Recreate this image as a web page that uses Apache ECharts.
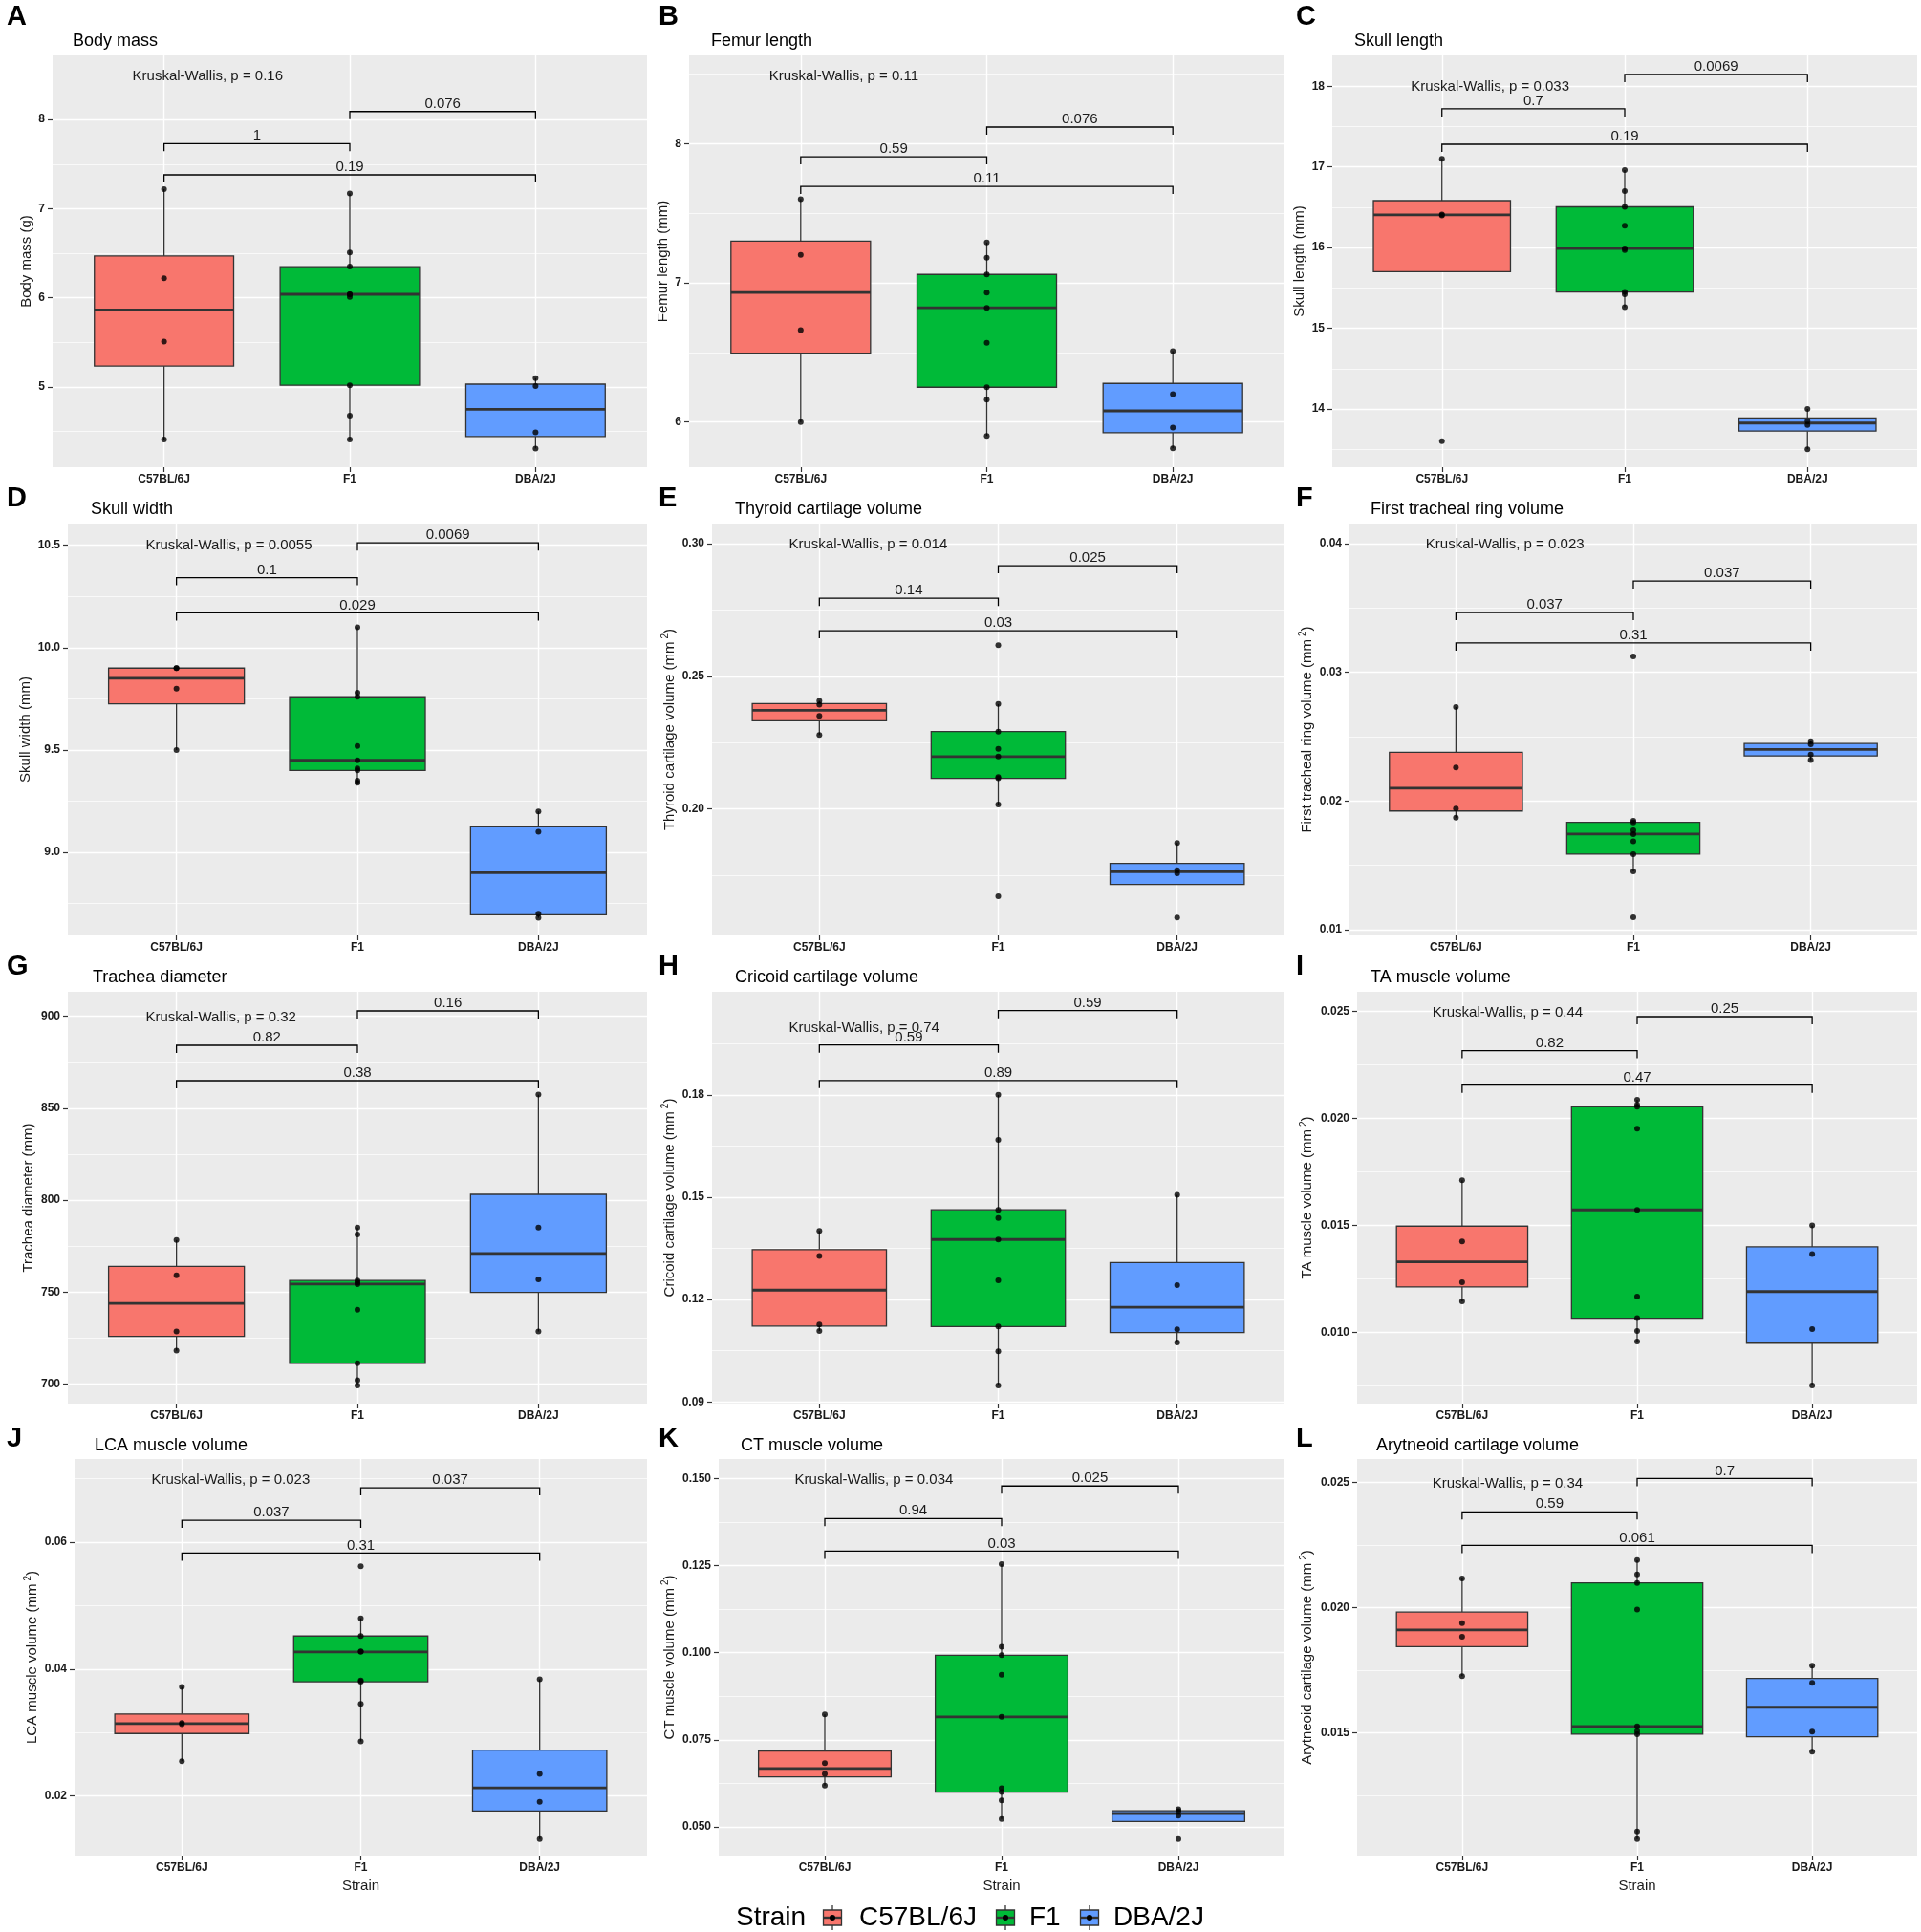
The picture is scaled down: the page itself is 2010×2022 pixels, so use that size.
<!DOCTYPE html>
<html>
<head>
<meta charset="utf-8">
<title>Strain comparisons</title>
<script src="https://cdn.jsdelivr.net/npm/echarts@6.0.0/dist/echarts.min.js"></script>
<style>
  html, body { margin: 0; padding: 0; background: #fff; }
  #main { width: 2010px; height: 2022px; }
</style>
</head>
<body>
<div id="main"></div>
<script>
const strains = ['C57BL/6J', 'F1', 'DBA/2J'];
// brackets in every panel: C57BL/6J-F1, F1-DBA/2J, C57BL/6J-DBA/2J
const pairs = [[1, 2], [2, 3], [1, 3]];

// A body mass
const bodyMassC57 = [7.22, 6.22, 5.51, 4.41];
const bodyMassF1 = [7.17, 6.51, 6.35, 6.04, 6.04, 6.01, 5.02, 4.68, 4.41];
const bodyMassDBA = [5.10, 5.01, 4.49, 4.31];
const bodyMassTicks = [5, 6, 7, 8];
const bodyMassRange = [4.10, 8.72];
const bodyMassP = [['1', 7.73], ['0.076', 8.09], ['0.19', 7.38]];
const bodyMassKW = ['0.16', 8.49];

// B femur length
const femurC57 = [7.60, 7.20, 6.66, 6.00];
const femurF1 = [7.29, 7.18, 7.06, 6.93, 6.82, 6.57, 6.25, 6.16, 5.90];
const femurDBA = [6.51, 6.20, 5.96, 5.81];
const femurTicks = [6, 7, 8];
const femurRange = [5.675, 8.634];
const femurP = [['0.59', 7.906], ['0.076', 8.119], ['0.11', 7.693]];
const femurKW = ['0.11', 8.485];

// C skull length
const skullLenC57 = [17.10, 16.41, 16.40, 13.60];
const skullLenF1 = [16.96, 16.70, 16.505, 16.27, 15.99, 15.97, 15.45, 15.42, 15.26];
const skullLenDBA = [14.00, 13.85, 13.80, 13.50];
const skullLenTicks = [14, 15, 16, 17, 18];
const skullLenRange = [13.277, 18.383];
const skullLenP = [['0.7', 17.72], ['0.0069', 18.146], ['0.19', 17.281]];
const skullLenKW = ['0.033', 17.99];

// D skull width
const skullWidC57 = [9.90, 9.90, 9.80, 9.50];
const skullWidF1 = [10.10, 9.78, 9.76, 9.52, 9.45, 9.41, 9.40, 9.35, 9.34];
const skullWidDBA = [9.20, 9.10, 8.70, 8.68];
const skullWidTicks = [9.0, 9.5, 10.0, 10.5];
const skullWidRange = [8.594, 10.606];
const skullWidP = [['0.1', 10.342], ['0.0069', 10.512], ['0.029', 10.17]];
const skullWidKW = ['0.0055', 10.497];

// E thyroid cartilage volume
const thyroidC57 = [0.2407, 0.2393, 0.2350, 0.2278];
const thyroidF1 = [0.2617, 0.2395, 0.2291, 0.2226, 0.2197, 0.2120, 0.2115, 0.2016, 0.1670];
const thyroidDBA = [0.1871, 0.1768, 0.1756, 0.1590];
const thyroidTicks = [0.20, 0.25, 0.30];
const thyroidRange = [0.1522, 0.3076];
const thyroidP = [['0.14', 0.2794], ['0.025', 0.2917], ['0.03', 0.2672]];
const thyroidKW = ['0.014', 0.2998];

// F first tracheal ring volume
const ringC57 = [0.0273, 0.0226, 0.0194, 0.0187];
const ringF1 = [0.03124, 0.01847, 0.01834, 0.01772, 0.01743, 0.01686, 0.01587, 0.01453, 0.01097];
const ringDBA = [0.02465, 0.0244, 0.02361, 0.02317];
const ringTicks = [0.01, 0.02, 0.03, 0.04];
const ringRange = [0.00955, 0.04156];
const ringP = [['0.037', 0.03465], ['0.037', 0.0371], ['0.31', 0.03228]];
const ringKW = ['0.023', 0.03995];

// G trachea diameter
const tracheaC57 = [778.4, 759.2, 728.6, 718.2];
const tracheaF1 = [785.1, 781.4, 756.3, 755.3, 754.4, 740.4, 711.3, 702.1, 699.3];
const tracheaDBA = [857.4, 785.1, 756.9, 728.6];
const tracheaTicks = [700, 750, 800, 850, 900];
const tracheaRange = [689.4, 913.3];
const tracheaP = [['0.82', 884.2], ['0.16', 902.9], ['0.38', 865.0]];
const tracheaKW = ['0.32', 899.5];

// H cricoid cartilage volume
const cricoidC57 = [0.1401, 0.1328, 0.1127, 0.1108];
const cricoidF1 = [0.1800, 0.1668, 0.1463, 0.1439, 0.1376, 0.1256, 0.1121, 0.1048, 0.0948];
const cricoidDBA = [0.1507, 0.1242, 0.1113, 0.1074];
const cricoidTicks = [0.09, 0.12, 0.15, 0.18];
const cricoidRange = [0.0895, 0.2102];
const cricoidP = [['0.59', 0.1946], ['0.59', 0.2047], ['0.89', 0.1842]];
const cricoidKW = ['0.74', 0.1997];

// I TA muscle volume
const taC57 = [0.01711, 0.01426, 0.01235, 0.01146];
const taF1 = [0.02088, 0.02064, 0.02055, 0.01952, 0.01573, 0.01168, 0.01067, 0.01007, 0.00958];
const taDBA = [0.01501, 0.01367, 0.01016, 0.00753];
const taTicks = [0.010, 0.015, 0.020, 0.025];
const taRange = [0.00668, 0.02592];
const taP = [['0.82', 0.02317], ['0.25', 0.02476], ['0.47', 0.02156]];
const taKW = ['0.44', 0.02496];

// J LCA muscle volume
const lcaC57 = [0.0372, 0.0315, 0.0313, 0.0255];
const lcaF1 = [0.0562, 0.0480, 0.0452, 0.0428, 0.0427, 0.0382, 0.0380, 0.0345, 0.0286];
const lcaDBA = [0.0384, 0.0235, 0.0191, 0.0132];
const lcaTicks = [0.02, 0.04, 0.06];
const lcaRange = [0.01062, 0.07308];
const lcaP = [['0.037', 0.06344], ['0.037', 0.06856], ['0.31', 0.05826]];
const lcaKW = ['0.023', 0.06974];

// K CT muscle volume
const ctC57 = [0.0823, 0.0683, 0.0652, 0.0619];
const ctF1 = [0.1254, 0.1017, 0.0993, 0.0937, 0.0816, 0.0611, 0.0600, 0.0576, 0.0523];
const ctDBA = [0.0551, 0.0545, 0.0532, 0.0465];
const ctTicks = [0.050, 0.075, 0.100, 0.125, 0.150];
const ctRange = [0.04178, 0.1556];
const ctP = [['0.94', 0.1385], ['0.025', 0.14785], ['0.03', 0.12915]];
const ctKW = ['0.034', 0.1495];

// L arytenoid cartilage volume
const aryC57 = [0.02117, 0.01938, 0.01884, 0.01727];
const aryF1 = [0.0219, 0.02133, 0.02099, 0.01993, 0.01526, 0.01507, 0.01495, 0.01106, 0.01076];
const aryDBA = [0.01769, 0.0170, 0.01505, 0.01425];
const aryTicks = [0.015, 0.020, 0.025];
const aryRange = [0.0101, 0.02594];
const aryP = [['0.59', 0.02383], ['0.7', 0.02516], ['0.061', 0.02249]];
const aryKW = ['0.34', 0.02496];

const FONT = '"Liberation Sans", Arial, Helvetica, sans-serif';
const fills = ['#F8766D', '#00BA38', '#619CFF'];
const INK = '#1a1a1a';

const panels = [
  { letter: 'A', title: 'Body mass', yName: 'Body mass (g)', groups: [bodyMassC57, bodyMassF1, bodyMassDBA], ticks: bodyMassTicks, range: bodyMassRange, dec: 0, p: bodyMassP, kw: bodyMassKW },
  { letter: 'B', title: 'Femur length', yName: 'Femur length (mm)', groups: [femurC57, femurF1, femurDBA], ticks: femurTicks, range: femurRange, dec: 0, p: femurP, kw: femurKW },
  { letter: 'C', title: 'Skull length', yName: 'Skull length (mm)', groups: [skullLenC57, skullLenF1, skullLenDBA], ticks: skullLenTicks, range: skullLenRange, dec: 0, p: skullLenP, kw: skullLenKW },
  { letter: 'D', title: 'Skull width', yName: 'Skull width (mm)', groups: [skullWidC57, skullWidF1, skullWidDBA], ticks: skullWidTicks, range: skullWidRange, dec: 1, p: skullWidP, kw: skullWidKW },
  { letter: 'E', title: 'Thyroid cartilage volume', yName: 'Thyroid cartilage volume (mm{s|2})', groups: [thyroidC57, thyroidF1, thyroidDBA], ticks: thyroidTicks, range: thyroidRange, dec: 2, p: thyroidP, kw: thyroidKW },
  { letter: 'F', title: 'First tracheal ring volume', yName: 'First tracheal ring volume (mm{s|2})', groups: [ringC57, ringF1, ringDBA], ticks: ringTicks, range: ringRange, dec: 2, p: ringP, kw: ringKW },
  { letter: 'G', title: 'Trachea diameter', yName: 'Trachea diameter (mm)', groups: [tracheaC57, tracheaF1, tracheaDBA], ticks: tracheaTicks, range: tracheaRange, dec: 0, p: tracheaP, kw: tracheaKW },
  { letter: 'H', title: 'Cricoid cartilage volume', yName: 'Cricoid cartilage volume (mm{s|2})', groups: [cricoidC57, cricoidF1, cricoidDBA], ticks: cricoidTicks, range: cricoidRange, dec: 2, p: cricoidP, kw: cricoidKW },
  { letter: 'I', title: 'TA muscle volume', yName: 'TA muscle volume (mm{s|2})', groups: [taC57, taF1, taDBA], ticks: taTicks, range: taRange, dec: 3, p: taP, kw: taKW },
  { letter: 'J', title: 'LCA muscle volume', yName: 'LCA muscle volume (mm{s|2})', groups: [lcaC57, lcaF1, lcaDBA], ticks: lcaTicks, range: lcaRange, dec: 2, p: lcaP, kw: lcaKW },
  { letter: 'K', title: 'CT muscle volume', yName: 'CT muscle volume (mm{s|2})', groups: [ctC57, ctF1, ctDBA], ticks: ctTicks, range: ctRange, dec: 3, p: ctP, kw: ctKW },
  { letter: 'L', title: 'Arytneoid cartilage volume', yName: 'Arytneoid cartilage volume (mm{s|2})', groups: [aryC57, aryF1, aryDBA], ticks: aryTicks, range: aryRange, dec: 3, p: aryP, kw: aryKW }
];

// [gridLeft, gridTop, gridWidth, gridHeight, titleX, yTitleCenterX]
const layout = [
  [55, 58, 622, 431, 76, 30], [721, 58, 623, 431, 744, 696], [1394, 58, 612, 431, 1417, 1364],
  [71, 548, 606, 431, 95, 30.5], [745, 548, 599, 431, 769, 700.5], [1412, 548, 594, 431, 1434, 1368],
  [71, 1038, 606, 431, 97, 30.5], [745, 1038, 599, 431, 769, 700.5], [1420, 1038, 586, 431, 1434, 1368],
  [78, 1527, 599, 415, 99, 34], [752, 1527, 592, 415, 775, 700.5], [1420, 1527, 586, 415, 1440, 1368]
];
const titleTop = [34, 524, 1014, 1504];
const letterY = [17.5, 522, 1012, 1506];
const letterX = [7, 689, 1356];

// ggplot-like box statistics: type 7 quartiles, whiskers to the last point inside 1.5 IQR
function boxStats(values) {
  const s = values.slice().sort((a, b) => a - b);
  const q = p => {
    const h = (s.length - 1) * p, lo = Math.floor(h), e = h - lo;
    return lo + 1 < s.length ? s[lo] + e * (s[lo + 1] - s[lo]) : s[lo];
  };
  const q1 = q(0.25), med = q(0.5), q3 = q(0.75), iqr = q3 - q1;
  const inside = s.filter(v => v >= q1 - 1.5 * iqr && v <= q3 + 1.5 * iqr);
  return [Math.min(q1, inside[0]), q1, med, q3, Math.max(q3, inside[inside.length - 1])];
}

function minorTicks(ticks, range) {
  const step = ticks[1] - ticks[0];
  const out = [];
  for (let i = -1; i < ticks.length; i++) {
    const v = ticks[0] + (i + 0.5) * step;
    if (v > range[0] && v < range[1]) out.push(+v.toFixed(8));
  }
  return out;
}

function renderBox(params, api) {
  const x = api.value(0);
  const low = api.coord([x, api.value(1)]);
  const q1 = api.coord([x, api.value(2)]);
  const med = api.coord([x, api.value(3)]);
  const q3 = api.coord([x, api.value(4)]);
  const high = api.coord([x, api.value(5)]);
  const left = api.coord([x - 0.375, api.value(3)])[0];
  const right = api.coord([x + 0.375, api.value(3)])[0];
  const cx = q1[0];
  const stroke = { stroke: '#333', lineWidth: 1.3 };
  return {
    type: 'group',
    children: [
      { type: 'line', shape: { x1: cx, y1: high[1], x2: cx, y2: q3[1] }, style: stroke },
      { type: 'line', shape: { x1: cx, y1: q1[1], x2: cx, y2: low[1] }, style: stroke },
      { type: 'rect', shape: { x: left, y: q3[1], width: right - left, height: q1[1] - q3[1] },
        style: { fill: fills[params.dataIndex], stroke: '#333', lineWidth: 1.3 } },
      { type: 'line', shape: { x1: left, y1: med[1], x2: right, y2: med[1] }, style: { stroke: '#333', lineWidth: 2.8 } }
    ]
  };
}

function bracketRenderer(labels) {
  return function (params, api) {
    const a = api.coord([api.value(0), api.value(2)]);
    const b = api.coord([api.value(1), api.value(2)]);
    const tip = 8;
    return {
      type: 'group',
      children: [
        { type: 'polyline', shape: { points: [[a[0], a[1] + tip], [a[0], a[1]], [b[0], b[1]], [b[0], b[1] + tip]] },
          style: { stroke: '#000', lineWidth: 1.3, fill: null } },
        { type: 'text', x: (a[0] + b[0]) / 2, y: a[1] - 0.5,
          style: { text: labels[params.dataIndex], fill: INK, font: '15px ' + FONT,
                   align: 'center', verticalAlign: 'bottom', textAlign: 'center', textVerticalAlign: 'bottom' } }
      ]
    };
  };
}

function kwRenderer(label) {
  return function (params, api) {
    const pt = api.coord([api.value(0), api.value(1)]);
    return {
      type: 'text', x: pt[0], y: pt[1],
      style: { text: label, fill: INK, font: '15px ' + FONT,
               align: 'left', verticalAlign: 'middle', textAlign: 'left', textVerticalAlign: 'middle' }
    };
  };
}

const grid = [], xAxis = [], yAxis = [], series = [], title = [], graphic = [];

panels.forEach((pn, i) => {
  const [gl, gt, gw, gh, tx, yTitleX] = layout[i];
  const row = Math.floor(i / 3), col = i % 3;
  grid.push({ left: gl, top: gt, width: gw, height: gh, show: true, backgroundColor: '#EBEBEB', borderWidth: 0 });

  xAxis.push({
    gridIndex: i, type: 'value', min: 0.4, max: 3.6,
    name: row === 3 ? 'Strain' : '', nameLocation: 'middle', nameGap: 24,
    nameTextStyle: { fontSize: 15, color: INK, fontFamily: FONT },
    axisLine: { show: false },
    axisTick: { show: true, length: 5, lineStyle: { color: '#333', width: 1.2 }, customValues: [1, 2, 3] },
    axisLabel: { customValues: [1, 2, 3], formatter: v => strains[Math.round(v) - 1],
                 fontSize: 12, fontWeight: 'bold', color: INK, fontFamily: FONT, margin: 7 },
    splitLine: { show: true, lineStyle: { color: '#fff', width: 1.4 } }
  });

  yAxis.push({
    gridIndex: i, type: 'value', min: pn.range[0], max: pn.range[1], position: 'left',
    name: pn.yName, nameLocation: 'middle', nameGap: gl - yTitleX - 9,
    nameTextStyle: { fontSize: 15, color: INK, fontFamily: FONT, lineHeight: 18,
      rich: { s: { fontSize: 10, lineHeight: 10, verticalAlign: 'top', color: INK, fontFamily: FONT, padding: [0, 0, 0, 3] } } },
    axisLine: { show: false },
    axisTick: { show: true, length: 5, lineStyle: { color: '#333', width: 1.2 }, customValues: pn.ticks },
    axisLabel: { customValues: pn.ticks, formatter: v => v.toFixed(pn.dec),
                 fontSize: 12, fontWeight: 'bold', color: INK, fontFamily: FONT, margin: 8 },
    splitLine: { show: true, lineStyle: { color: '#fff', width: 1.4 } }
  });
  yAxis.push({
    gridIndex: i, type: 'value', min: pn.range[0], max: pn.range[1], position: 'left',
    axisLine: { show: false }, axisLabel: { show: false },
    axisTick: { show: true, length: 0, customValues: minorTicks(pn.ticks, pn.range) },
    splitLine: { show: true, lineStyle: { color: '#fff', width: 0.7 } }
  });

  series.push({
    type: 'custom', xAxisIndex: i, yAxisIndex: 2 * i, z: 2,
    encode: { x: 0, y: [1, 2, 3, 4, 5] },
    data: pn.groups.map((g, k) => [k + 1].concat(boxStats(g))),
    renderItem: renderBox
  });
  series.push({
    type: 'scatter', xAxisIndex: i, yAxisIndex: 2 * i, z: 3,
    symbol: 'circle', symbolSize: 6, itemStyle: { color: '#000' },
    data: pn.groups.flatMap((g, k) => g.map(v => [k + 1, v]))
  });
  series.push({
    type: 'custom', xAxisIndex: i, yAxisIndex: 2 * i, z: 4,
    encode: { x: [0, 1], y: 2 },
    data: pairs.map((pr, j) => [pr[0], pr[1], pn.p[j][1]]),
    renderItem: bracketRenderer(pn.p.map(d => d[0]))
  });
  series.push({
    type: 'custom', xAxisIndex: i, yAxisIndex: 2 * i, z: 4,
    encode: { x: 0, y: 1 },
    data: [[0.83, pn.kw[1]]],
    renderItem: kwRenderer('Kruskal-Wallis, p = ' + pn.kw[0])
  });

  title.push({ text: pn.title, left: tx, top: titleTop[row], padding: 0,
               textStyle: { fontSize: 18, fontWeight: 'normal', color: '#000', fontFamily: FONT, lineHeight: 18 } });
  graphic.push({ type: 'text', x: letterX[col], y: letterY[row],
                 style: { text: pn.letter, fill: '#000', font: 'bold 29px ' + FONT,
                          verticalAlign: 'middle', textVerticalAlign: 'middle' } });
});

// legend drawn as ggplot-style keys
const legendY = 2007;
graphic.push({ type: 'text', x: 770, y: legendY,
               style: { text: 'Strain', fill: '#000', font: '28px ' + FONT, verticalAlign: 'middle', textVerticalAlign: 'middle' } });
const keyX = [871, 1052, 1140], keyTextX = [899, 1077, 1165];
strains.forEach((s, k) => {
  const cx = keyX[k], cy = legendY;
  graphic.push({ type: 'line', shape: { x1: cx, y1: cy - 13, x2: cx, y2: cy + 13 }, style: { stroke: '#333', lineWidth: 1.3 } });
  graphic.push({ type: 'rect', shape: { x: cx - 9.5, y: cy - 8, width: 19, height: 16 }, style: { fill: fills[k], stroke: '#333', lineWidth: 1.3 } });
  graphic.push({ type: 'line', shape: { x1: cx - 9.5, y1: cy, x2: cx + 9.5, y2: cy }, style: { stroke: '#333', lineWidth: 2.4 } });
  graphic.push({ type: 'circle', shape: { cx: cx, cy: cy, r: 3 }, style: { fill: '#000' } });
  graphic.push({ type: 'text', x: keyTextX[k], y: cy,
                 style: { text: s, fill: '#000', font: '28px ' + FONT, verticalAlign: 'middle', textVerticalAlign: 'middle' } });
});

const chart = echarts.init(document.getElementById('main'));
chart.setOption({
  animation: false,
  backgroundColor: '#fff',
  title: title,
  grid: grid,
  xAxis: xAxis,
  yAxis: yAxis,
  series: series,
  graphic: graphic
});
</script>
</body>
</html>
